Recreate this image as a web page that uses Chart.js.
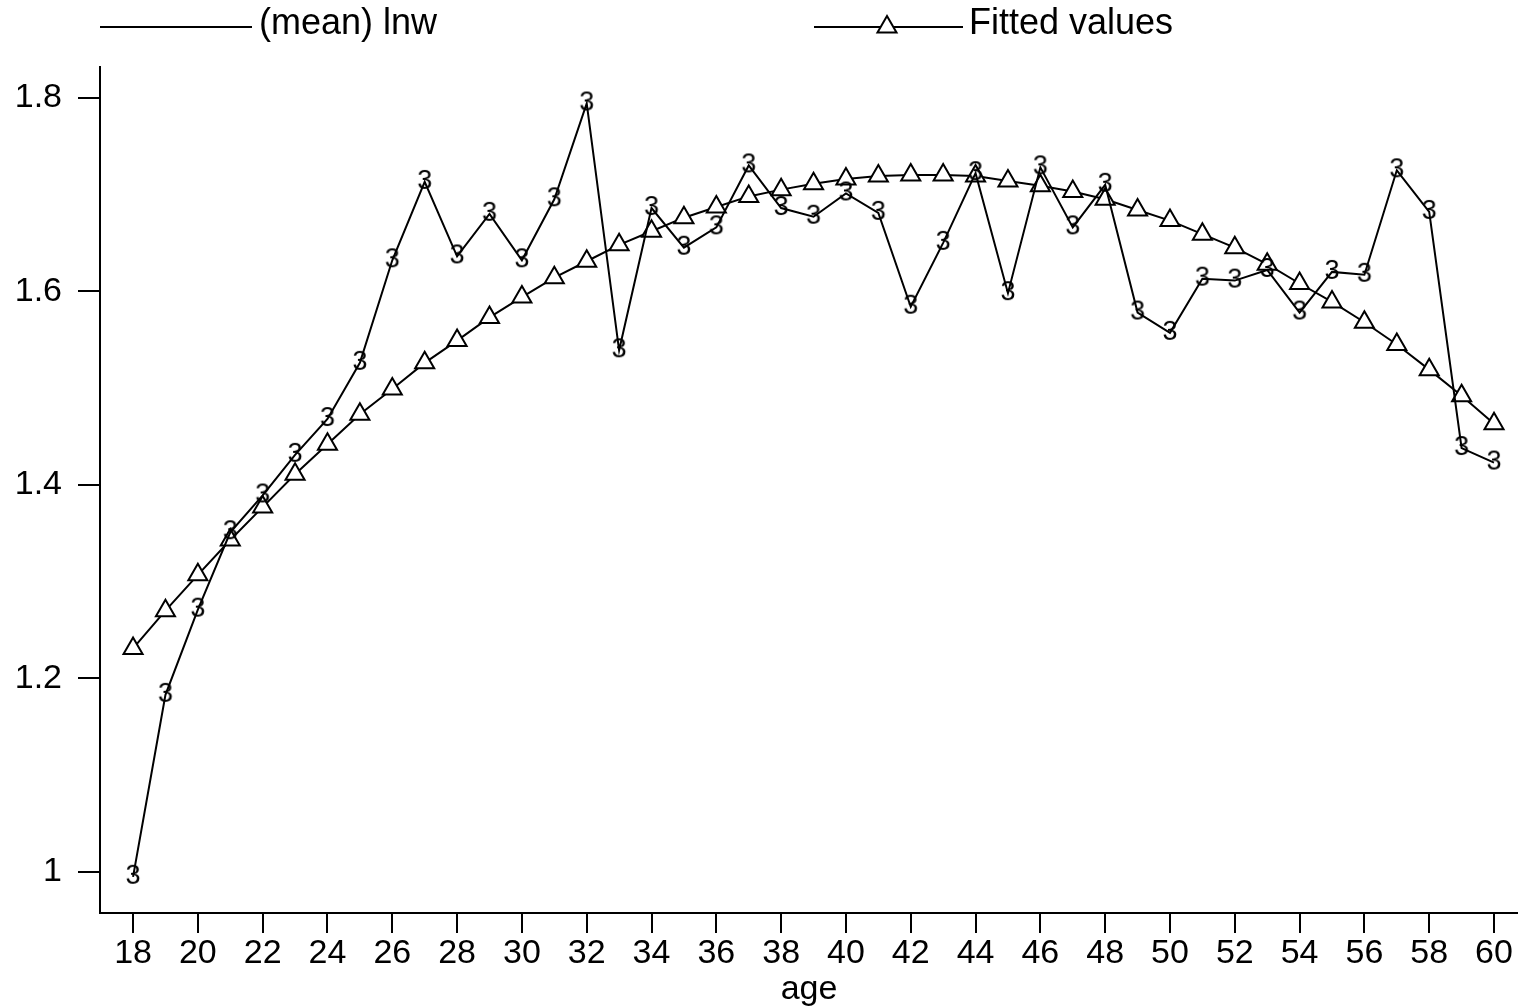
<!DOCTYPE html>
<html>
<head>
<meta charset="utf-8">
<script src="https://cdn.jsdelivr.net/npm/chart.js@4.4.1/dist/chart.umd.min.js"></script>
<style>
  html,body{margin:0;padding:0;background:#fff;}
  #wrap{position:relative;width:1518px;height:1008px;}
</style>
</head>
<body>
<div id="wrap"><canvas id="chart"></canvas></div>
<script>
// data
var ages=[18,19,20,21,22,23,24,25,26,27,28,29,30,31,32,33,34,35,36,37,38,39,40,41,42,43,44,45,46,47,48,49,50,51,52,53,54,55,56,57,58,59,60];
var meanLnw=[0.995,1.183,1.271,1.351,1.389,1.431,1.468,1.526,1.632,1.713,1.636,1.680,1.632,1.695,1.794,1.539,1.686,1.645,1.666,1.730,1.686,1.677,1.701,1.681,1.584,1.650,1.722,1.598,1.728,1.666,1.710,1.578,1.557,1.613,1.611,1.622,1.578,1.620,1.617,1.725,1.682,1.438,1.423];
var fittedValues=[1.231,1.270,1.307,1.343,1.377,1.411,1.442,1.473,1.499,1.526,1.549,1.573,1.594,1.614,1.631,1.648,1.662,1.676,1.687,1.698,1.705,1.711,1.716,1.719,1.720,1.720,1.719,1.714,1.709,1.703,1.695,1.684,1.673,1.659,1.645,1.628,1.608,1.589,1.568,1.545,1.519,1.492,1.463];
var xTicks=[18,20,22,24,26,28,30,32,34,36,38,40,42,44,46,48,50,52,54,56,58,60];
var yTicks=[1,1.2,1.4,1.6,1.8];
var seriesLabels=['(mean) lnw','Fitted values'];

var FONT='"Liberation Sans", Arial, sans-serif';

function toPoints(xs,ys){
  return xs.map(function(x,i){return {x:x,y:ys[i]};});
}

// the "3" marker used for the mean series
function glyphMarker(ch){
  var c=document.createElement('canvas');
  c.width=22;c.height=30;
  var g=c.getContext('2d');
  g.font='27px '+FONT;
  g.fillStyle='#000';
  g.textAlign='center';
  g.textBaseline='middle';
  g.fillText(ch,11,15);
  return c;
}

var legendPlugin={
  id:'topLegend',
  afterDraw:function(chart){
    var ctx=chart.ctx;
    ctx.save();
    ctx.strokeStyle='#000';ctx.fillStyle='#000';ctx.lineWidth=2;
    ctx.font='36px '+FONT;ctx.textBaseline='middle';
    var ly=27;
    ctx.beginPath();ctx.moveTo(100,ly);ctx.lineTo(252,ly);ctx.stroke();
    ctx.fillText(chart.data.datasets[0].label,259,24);
    ctx.beginPath();ctx.moveTo(814,ly);ctx.lineTo(963,ly);ctx.stroke();
    // triangle
    var cx=887,r=11;
    ctx.beginPath();
    ctx.moveTo(cx,ly-r);
    ctx.lineTo(cx+r*Math.sin(2*Math.PI/3),ly-r*Math.cos(2*Math.PI/3));
    ctx.lineTo(cx+r*Math.sin(4*Math.PI/3),ly-r*Math.cos(4*Math.PI/3));
    ctx.closePath();
    ctx.fillStyle='#fff';ctx.fill();ctx.stroke();
    ctx.fillStyle='#000';
    ctx.fillText(chart.data.datasets[1].label,969,24);
    ctx.restore();
  }
};

var axisGrid={display:true,drawOnChartArea:false,drawTicks:true,color:'#000',lineWidth:2,tickWidth:2,tickColor:'#000'};

new Chart(document.getElementById('chart'),{
  type:'line',
  data:{
    datasets:[
      {label:seriesLabels[0],data:toPoints(ages,meanLnw),borderColor:'#000',borderWidth:2,tension:0,
        pointStyle:glyphMarker('3'),pointRadius:3,fill:false},
      {label:seriesLabels[1],data:toPoints(ages,fittedValues),borderColor:'#000',borderWidth:2,tension:0,
        pointStyle:'triangle',pointRadius:11,pointBorderWidth:2,pointBorderColor:'#000',pointBackgroundColor:'#fff',fill:false}
    ]
  },
  options:{
    responsive:true,
    maintainAspectRatio:false,
    animation:false,
    layout:{autoPadding:false,padding:{top:67,left:0,right:0,bottom:0}},
    plugins:{legend:{display:false},tooltip:{enabled:false}},
    scales:{
      x:{
        type:'linear',min:16.98,max:60.74,
        afterBuildTicks:function(s){s.ticks=xTicks.map(function(v){return {value:v};});},
        afterFit:function(s){s.height=95;s.paddingLeft=0;s.paddingRight=0;},
        border:{display:true,color:'#000',width:2},
        grid:Object.assign({},axisGrid,{tickLength:20}),
        ticks:{color:'#000',font:{family:FONT,size:34},padding:0,maxRotation:0,autoSkip:false},
        title:{display:true,text:'age',color:'#000',font:{family:FONT,size:34},padding:{top:0,bottom:-2}}
      },
      y:{
        type:'linear',min:0.9576,max:1.8317,
        afterBuildTicks:function(s){s.ticks=yTicks.map(function(v){return {value:v};});},
        afterFit:function(s){s.width=100;s.paddingTop=0;s.paddingBottom=0;},
        border:{display:true,color:'#000',width:2},
        grid:Object.assign({},axisGrid,{tickLength:22}),
        ticks:{color:'#000',font:{family:FONT,size:34},padding:16,
          callback:function(v){return String(+v.toFixed(1));}}
      }
    }
  },
  plugins:[legendPlugin]
});
</script>
</body>
</html>
